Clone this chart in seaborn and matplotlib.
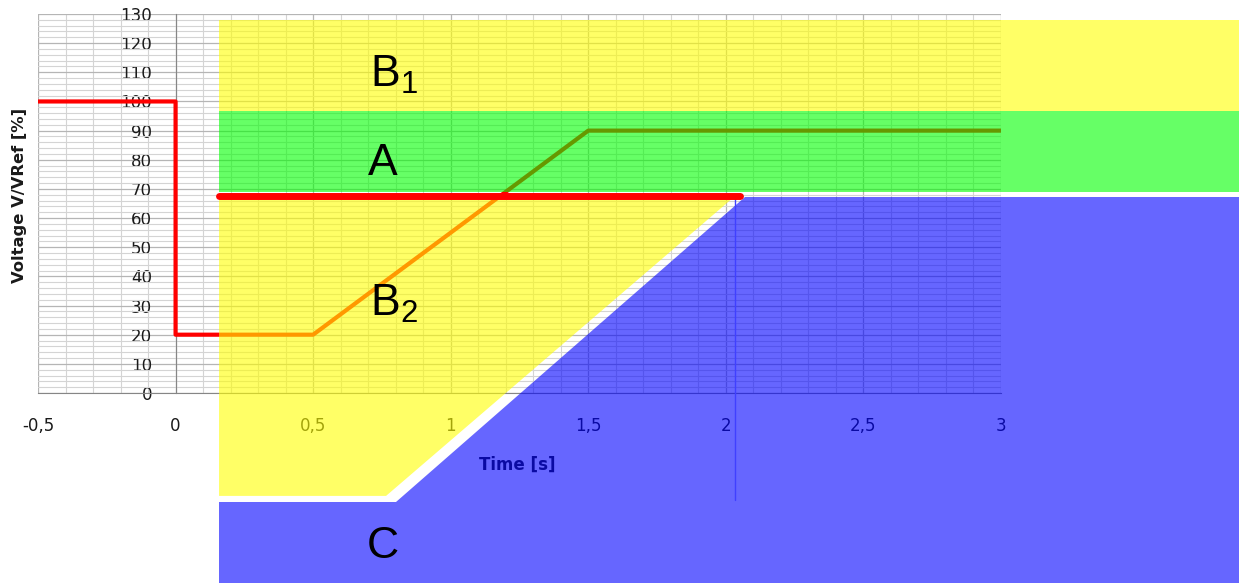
import matplotlib
matplotlib.use("Agg")
import matplotlib.pyplot as plt
import seaborn as sns
from matplotlib.patches import Polygon
from matplotlib.ticker import MultipleLocator, FuncFormatter

# voltage profile of the fault (time in s, voltage in % of VRef)
time_s = [-0.5, 0.0, 0.0, 0.5, 1.5, 3.0]
voltage_pct = [100, 100, 20, 20, 90, 90]

# zone limits (same units as the chart)
zone_t_start = 0.158
zone_t_end = 3.866
b1_top = 128.0
b1_bottom = 96.7
a_bottom = 69.0
limit_v = 67.6
limit_t_end = 2.05
blue_top = 67.2
b2_bottom = -35.3
b2_diag_top_t = 2.034
b2_diag_bottom_t = 0.765
c_diag_top_t = 2.070
c_diag_bottom_t = 0.801
c_band_top = -37.4
c_bottom = -65.2

zone_labels = ["B", "A", "B", "C"]

sns.set_style("white")
plt.rcParams["font.family"] = ["DejaVu Sans"]

W, H = 1239, 583
fig = plt.figure(figsize=(W / 100, H / 100), dpi=100)
ax = fig.add_axes([38 / W, 1 - 393 / H, 963 / W, 379 / H])

sns.lineplot(x=time_s, y=voltage_pct, sort=False, estimator=None,
             color="red", lw=3, ax=ax, zorder=3)

ax.set_xlim(-0.5, 3)
ax.set_ylim(0, 130)
ax.xaxis.set_major_locator(MultipleLocator(0.5))
ax.xaxis.set_minor_locator(MultipleLocator(0.1))
ax.yaxis.set_major_locator(MultipleLocator(10))
ax.yaxis.set_minor_locator(MultipleLocator(2))
ax.xaxis.set_major_formatter(FuncFormatter(lambda v, _: f"{v:g}".replace(".", ",")))
ax.yaxis.set_major_formatter(FuncFormatter(lambda v, _: f"{v:g}"))

ax.grid(which="major", color="#b5b5b5", lw=0.9)
ax.grid(which="minor", color="#d4d4d4", lw=0.8)
ax.set_axisbelow(True)

for s in ["top", "right"]:
    ax.spines[s].set_visible(False)
ax.spines["left"].set_position(("data", 0))
ax.spines["left"].set_color("#868686")
ax.spines["bottom"].set_color("#868686")

ax.tick_params(axis="x", which="major", length=5, color="#868686", pad=12,
               labelsize=12, labelcolor="#1a1a1a")
ax.tick_params(axis="x", which="minor", length=0)
ax.tick_params(axis="y", which="both", length=0, pad=17,
               labelsize=12, labelcolor="#1a1a1a")
ax.set_xlabel("")
ax.set_ylabel("")

# axis titles (the x title sits under the overlays, so it goes in the axes)
fig.text(20 / W, 1 - 195 / H, "Voltage V/VRef [%]", rotation=90,
         ha="center", va="center", fontsize=11.8, fontweight="bold", color="#1a1a1a")
ax.text(517 / W, 1 - 465 / H, "Time [s]", transform=fig.transFigure,
        ha="center", va="center", fontsize=12, fontweight="bold",
        color="#1a1a1a", zorder=2, clip_on=False)

yellow = (1, 1, 0)
green = (0, 1, 0)
blue = (0, 0, 1)


def zone(verts, color):
    ax.add_patch(Polygon(verts, closed=True, facecolor=color, edgecolor="none",
                         alpha=0.6, zorder=5, clip_on=False))


# B1
zone([(zone_t_start, b1_top), (zone_t_end, b1_top),
      (zone_t_end, b1_bottom), (zone_t_start, b1_bottom)], yellow)
# A
zone([(zone_t_start, b1_bottom), (zone_t_end, b1_bottom),
      (zone_t_end, a_bottom), (zone_t_start, a_bottom)], green)
# B2
zone([(zone_t_start, limit_v), (b2_diag_top_t, limit_v),
      (b2_diag_bottom_t, b2_bottom), (zone_t_start, b2_bottom)], yellow)
# C
zone([(c_diag_top_t, blue_top), (zone_t_end, blue_top), (zone_t_end, c_bottom),
      (zone_t_start, c_bottom), (zone_t_start, c_band_top),
      (c_diag_bottom_t, c_band_top)], blue)

ax.plot([b2_diag_top_t, b2_diag_top_t], [blue_top, c_band_top + 0.8],
        color=(0.25, 0.25, 1), lw=1, zorder=5.5, clip_on=False)

# threshold line
ax.plot([zone_t_start, limit_t_end], [limit_v, limit_v], color="red", lw=5,
        solid_capstyle="round", zorder=6, clip_on=False)

lab_kw = dict(fontsize=32, family="Liberation Sans", color="black",
              ha="left", va="baseline", zorder=7)
fig.text(370 / W, 1 - 87 / H, r"$\mathregular{" + zone_labels[0] + "_1}$", **lab_kw)
fig.text(368 / W, 1 - 175 / H, zone_labels[1], **lab_kw)
fig.text(370 / W, 1 - 316 / H, r"$\mathregular{" + zone_labels[2] + "_2}$", **lab_kw)
fig.text(367 / W, 1 - 558 / H, zone_labels[3], **lab_kw)

fig.savefig("out.png", dpi=100)
